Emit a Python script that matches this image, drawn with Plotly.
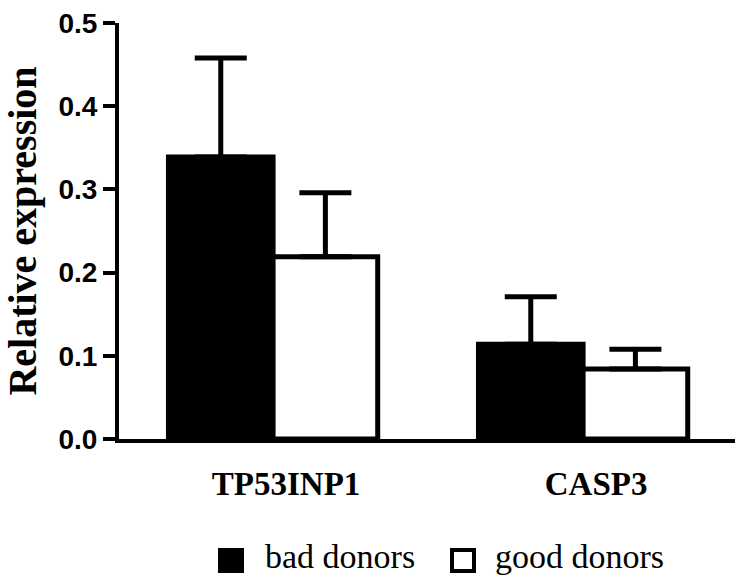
import plotly.graph_objects as go

# Expression data (mean and SEM) per gene and donor group
genes = ["TP53INP1", "CASP3"]
groups = ["bad donors", "good donors"]
bad_mean = [0.339, 0.114]
bad_sem = [0.119, 0.057]
good_mean = [0.219, 0.084]
good_sem = [0.077, 0.024]
y_ticks = [0.0, 0.1, 0.2, 0.3, 0.4, 0.5]

W, H = 735, 576
L, R, T, B = 119, 0, 23, 137
PW, PH = W - L - R, H - T - B

SERIF = "Liberation Serif, Times New Roman, Times, serif"
SANS = "Liberation Sans, Arial, Helvetica, sans-serif"

fills = ["black", "white"]
means = [bad_mean, good_mean]
sems = [bad_sem, good_sem]

fig = go.Figure()
for name, fill, m, s in zip(groups, fills, means, sems):
    fig.add_trace(go.Bar(
        x=genes, y=m, name=name,
        marker=dict(color=fill, line=dict(color="black", width=5)),
        error_y=dict(type="data", array=s, arrayminus=[0] * len(s),
                     symmetric=False, color="black", thickness=5, width=26),
    ))

fig.update_layout(
    width=W, height=H,
    margin=dict(l=L, r=R, t=T, b=B, pad=0),
    paper_bgcolor="white", plot_bgcolor="white",
    barmode="group", bargap=0.325, bargroupgap=0,
    showlegend=False,
)

fig.update_yaxes(
    range=[0, 0.5], tickvals=y_ticks, tickformat=".1f",
    showgrid=False, zeroline=False,
    showline=True, linecolor="black", linewidth=4,
    ticks="outside", ticklen=12, tickwidth=4, tickcolor="black",
    tickfont=dict(family=SANS, size=28, color="black", weight="bold"),
    title=dict(text="<b>Relative expression</b>", standoff=16,
               font=dict(family=SERIF, size=40, color="black")),
)
fig.update_xaxes(
    range=[-0.497, 1.49],
    showgrid=False, zeroline=False,
    showline=True, linecolor="black", linewidth=4,
    ticks="", ticklabelshift=13, ticklabelstandoff=12,
    tickfont=dict(family=SERIF, size=33, color="black", weight="bold"),
)

# Legend drawn below the axis with larger swatches
def px(x):
    return (x - L) / PW

def py(y):
    return (H - B - y) / PH

legend_items = [(218, 263), (450, 493)]
for name, fill, (sx, tx) in zip(groups, fills, legend_items):
    lw = 0 if fill == "black" else 4
    fig.add_shape(type="rect", xref="paper", yref="paper",
                  x0=px(sx + lw / 2), x1=px(sx + 26 - lw / 2),
                  y0=py(548 + lw / 2), y1=py(573 - lw / 2),
                  fillcolor=fill, line=dict(color="black", width=lw))
    fig.add_annotation(text=name, xref="paper", yref="paper",
                       x=px(tx), y=py(556), xanchor="left", yanchor="middle",
                       showarrow=False,
                       font=dict(family=SERIF, size=34, color="black"))

fig.write_html("out.html")
